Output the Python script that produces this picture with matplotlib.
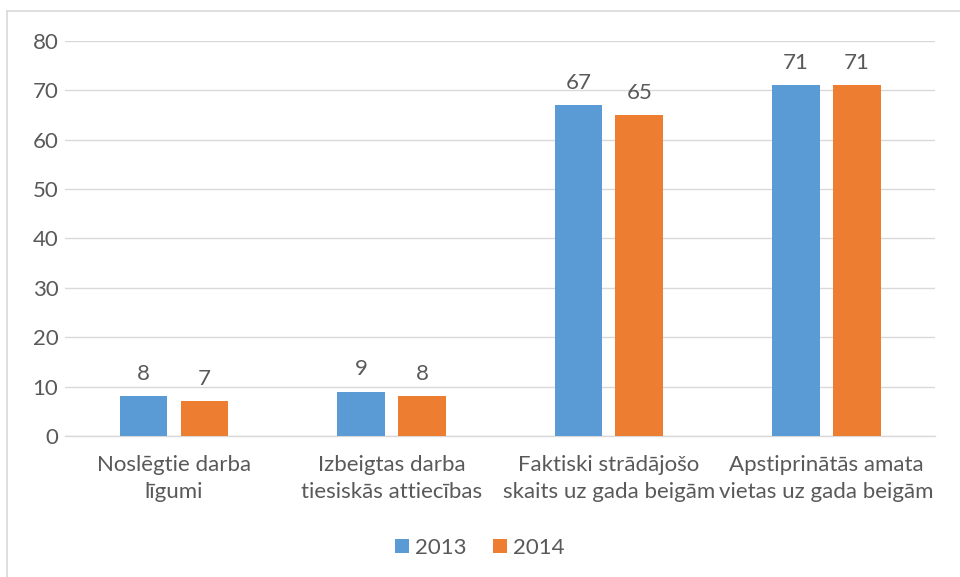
import matplotlib.pyplot as plt
from matplotlib.lines import Line2D

plt.rcParams['font.family'] = ['Lato', 'DejaVu Sans']

# categories and values
categories = ['Noslēgtie darba\nlīgumi',
              'Izbeigtas darba\ntiesiskās attiecības',
              'Faktiski strādājošo\nskaits uz gada beigām',
              'Apstiprinātās amata\nvietas uz gada beigām']
values_2013 = [8, 9, 67, 71]
values_2014 = [7, 8, 65, 71]
series_names = ['2013', '2014']

blue = '#5B9BD5'
orange = '#ED7D31'
text_col = '#595959'
fs = 16

fig = plt.figure(figsize=(9.6, 5.77), dpi=100)
ax = fig.add_axes([0.068, 0.2444, 0.906, 0.6846])

x = list(range(len(categories)))
w = 0.22
off = 0.14
b1 = ax.bar([i - off for i in x], values_2013, w, color=blue, label=series_names[0], zorder=3)
b2 = ax.bar([i + off for i in x], values_2014, w, color=orange, label=series_names[1], zorder=3)

for bars in (b1, b2):
    for r in bars:
        ax.annotate(str(int(r.get_height())), (r.get_x() + r.get_width() / 2, r.get_height()),
                    xytext=(0, 9), textcoords='offset points', ha='center', va='bottom',
                    fontsize=fs, color=text_col)

ax.set_xlim(-0.5, 3.5)
ax.set_ylim(0, 80)
ax.set_yticks(range(0, 81, 10))
ax.set_xticks(x)
ax.set_xticklabels(categories, fontsize=fs, color=text_col, linespacing=1.4)
ax.tick_params(axis='y', labelsize=fs, labelcolor=text_col, length=0, pad=5)
ax.tick_params(axis='x', length=0, pad=14)
ax.grid(axis='y', color='#D9D9D9', linewidth=1, zorder=0)
for s in ['left', 'right', 'top']:
    ax.spines[s].set_visible(False)
ax.spines['bottom'].set_color('#D9D9D9')
ax.spines['bottom'].set_linewidth(1)

fig.legend(handles=[b1, b2], loc='center', bbox_to_anchor=(0.5, 0.05), ncol=2,
           frameon=False, fontsize=fs, labelcolor=text_col, handlelength=0.6,
           handleheight=0.6, handletextpad=0.3, columnspacing=1.2)

# chart border (left/top edges visible)
fig.add_artist(Line2D([7 / 960, 7 / 960], [0, 1 - 11 / 577], transform=fig.transFigure,
                      color='#D9D9D9', linewidth=1.2))
fig.add_artist(Line2D([7 / 960, 1], [1 - 11 / 577, 1 - 11 / 577], transform=fig.transFigure,
                      color='#D9D9D9', linewidth=1.2))

fig.savefig('out.png', dpi=100)
